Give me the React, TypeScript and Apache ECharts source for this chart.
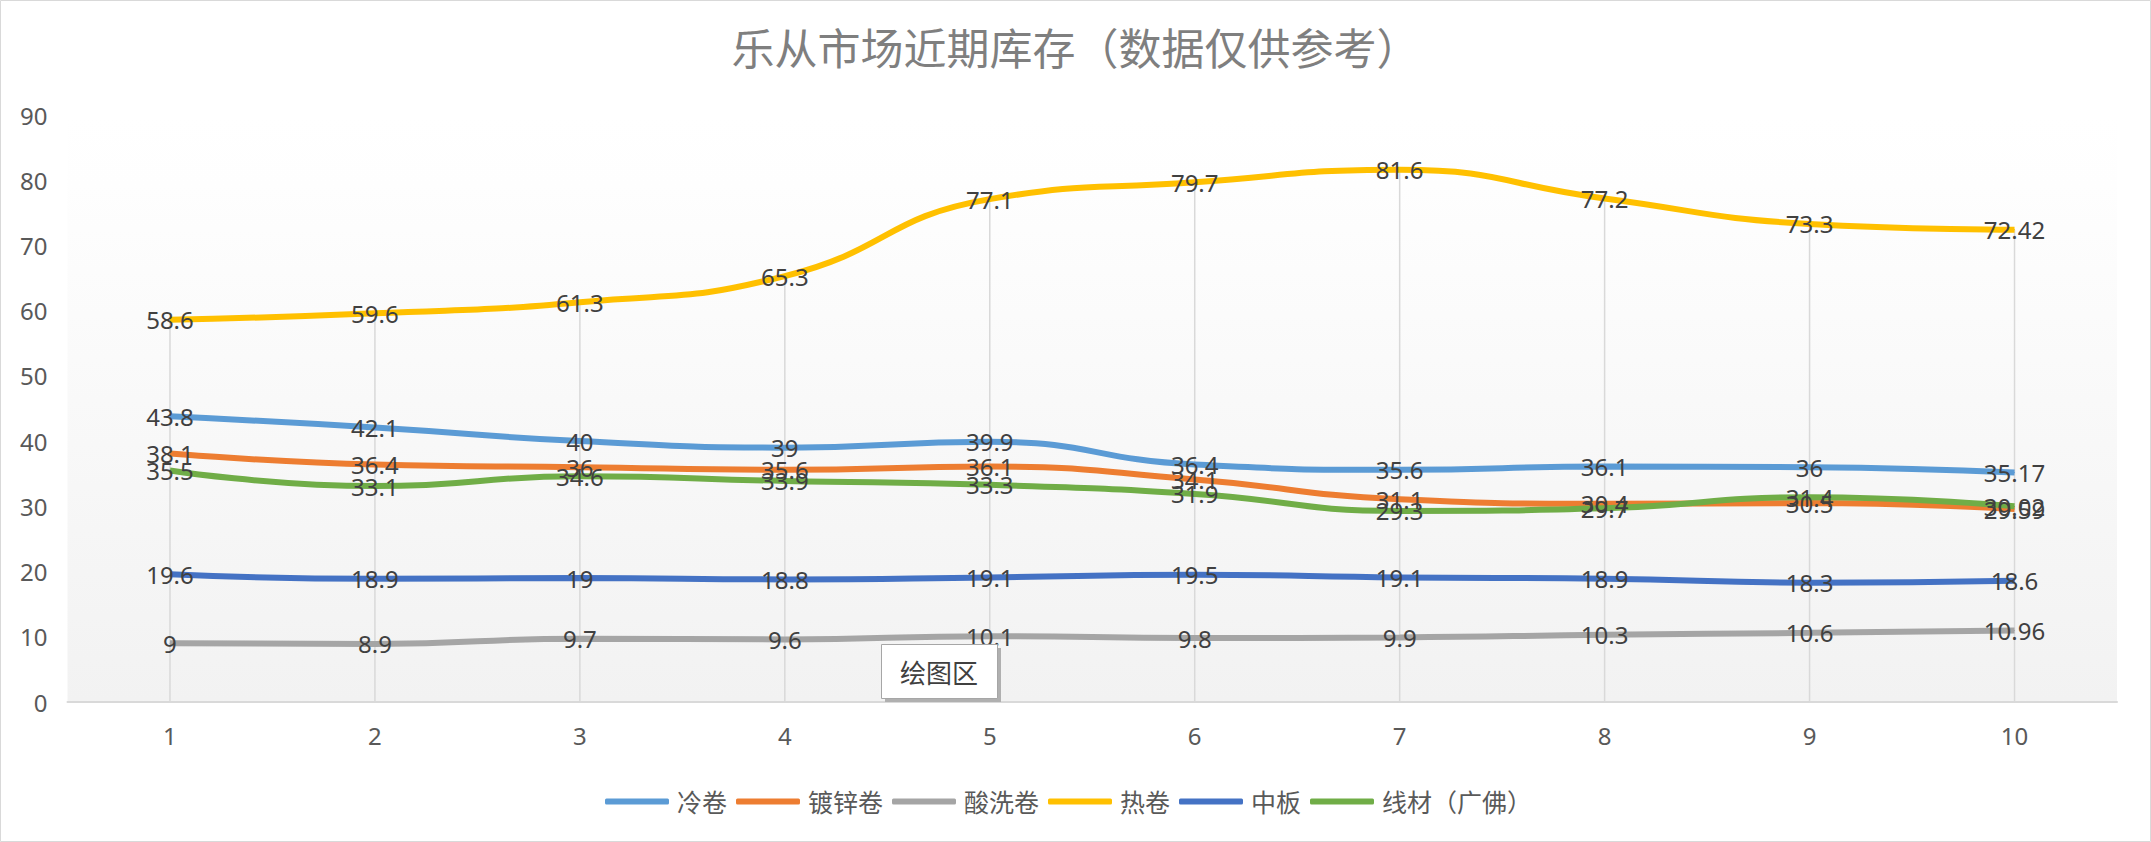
import React, { useEffect, useRef } from "react";
import * as echarts from "echarts";

const categories = ["1", "2", "3", "4", "5", "6", "7", "8", "9", "10"];
const lengJuan = [43.8, 42.1, 40, 39, 39.9, 36.4, 35.6, 36.1, 36, 35.17];
const duXinJuan = [38.1, 36.4, 36, 35.6, 36.1, 34.1, 31.1, 30.4, 30.5, 29.59];
const suanXiJuan = [9, 8.9, 9.7, 9.6, 10.1, 9.8, 9.9, 10.3, 10.6, 10.96];
const reJuan = [58.6, 59.6, 61.3, 65.3, 77.1, 79.7, 81.6, 77.2, 73.3, 72.42];
const zhongBan = [19.6, 18.9, 19, 18.8, 19.1, 19.5, 19.1, 18.9, 18.3, 18.6];
const xianCai = [35.5, 33.1, 34.6, 33.9, 33.3, 31.9, 29.3, 29.7, 31.4, 30.02];

const seriesDefs = [
  { name: "冷卷", data: lengJuan, color: "#5b9bd5" },
  { name: "镀锌卷", data: duXinJuan, color: "#ed7d31" },
  { name: "酸洗卷", data: suanXiJuan, color: "#a5a5a5" },
  { name: "热卷", data: reJuan, color: "#ffc000" },
  { name: "中板", data: zhongBan, color: "#4472c4" },
  { name: "线材（广佛）", data: xianCai, color: "#70ad47" },
];

const yTicks = { min: 0, max: 90, interval: 10 };
const FONT = "'Noto Sans', 'Noto Sans CJK SC', sans-serif";

export default function App() {
  const ref = useRef<HTMLDivElement>(null);
  useEffect(() => {
    if (!ref.current) return;
    const chart = echarts.init(ref.current, null, { renderer: "svg" });
    const dropMax = categories.map((_, i) =>
      Math.max(...seriesDefs.map((s) => s.data[i]))
    );
    const option: any = {
      animation: false,
      backgroundColor: "#ffffff",
      title: {
        text: "乐从市场近期库存（数据仅供参考）",
        left: "center",
        top: 19,
        textStyle: {
          fontFamily: "'Noto Sans CJK SC', sans-serif",
          fontSize: 43,
          fontWeight: "normal",
          color: "#7f7f7f",
        },
      },
      legend: {
        data: seriesDefs.map((s) => s.name),
        left: 600,
        top: 784,
        icon: "roundRect",
        itemWidth: 64,
        itemHeight: 6,
        itemGap: 9,
        textStyle: {
          fontFamily: FONT,
          fontSize: 25,
          color: "#595959",
          padding: [0, 0, 0, 3],
        },
      },
      grid: { left: 67.5, right: 34, top: 115, bottom: 140, containLabel: false },
      xAxis: {
        type: "category",
        data: categories,
        boundaryGap: true,
        axisTick: { show: false },
        axisLine: { lineStyle: { color: "#d9d9d9", width: 2 } },
        axisLabel: { fontFamily: FONT, fontSize: 24, color: "#595959", margin: 21 },
        splitLine: { show: false },
      },
      yAxis: {
        type: "value",
        min: yTicks.min,
        max: yTicks.max,
        interval: yTicks.interval,
        axisLine: { show: false },
        axisTick: { show: false },
        splitLine: { show: false },
        axisLabel: { fontFamily: FONT, fontSize: 24, color: "#595959", margin: 20 },
      },
      graphic: [
        {
          type: "rect",
          z: -10,
          silent: true,
          shape: { x: 67.5, y: 115, width: 2049.5, height: 587 },
          style: {
            fill: new echarts.graphic.LinearGradient(0, 0, 0, 1, [
              { offset: 0, color: "#ffffff" },
              { offset: 0.12, color: "#fefefe" },
              { offset: 1, color: "#f2f2f2" },
            ]),
          },
        },
        {
          type: "rect",
          z: -11,
          silent: true,
          shape: { x: 0.5, y: 0.5, width: 2150, height: 841 },
          style: { fill: "#ffffff", stroke: "#d9d9d9", lineWidth: 1 },
        },
        {
          type: "group",
          z: 100,
          children: [
            {
              type: "rect",
              z: 100,
              shape: { x: 885, y: 648, width: 116, height: 54 },
              style: { fill: "#b0b0b0" },
            },
            {
              type: "rect",
              z: 101,
              shape: { x: 881.5, y: 644.5, width: 116, height: 54 },
              style: { fill: "#ffffff", stroke: "#a6a6a6", lineWidth: 1 },
            },
            {
              type: "text",
              z: 102,
              x: 939,
              y: 671,
              style: {
                text: "绘图区",
                fontFamily: "'Noto Sans CJK SC', sans-serif",
                fontSize: 26,
                fill: "#404040",
                align: "center",
                verticalAlign: "middle",
              },
            },
          ],
        },
      ],
      series: [
        {
          name: "dropLines",
          type: "bar",
          data: dropMax,
          barWidth: 1.5,
          silent: true,
          z: 1,
          itemStyle: { color: "#d9d9d9" },
          label: { show: false },
        },
        ...seriesDefs.map((s) => ({
          name: s.name,
          type: "line",
          data: s.data,
          smooth: 0.5,
          symbol: "circle",
          symbolSize: 1,
          z: 3,
          lineStyle: { color: s.color, width: 6 },
          itemStyle: { color: s.color },
          label: {
            show: true,
            position: "inside",
            fontFamily: FONT,
            fontSize: 24,
            color: "#404040",
          },
          labelLayout: { hideOverlap: false },
        })),
      ],
    };
    chart.setOption(option);
    return () => chart.dispose();
  }, []);
  return (
    <div
      ref={ref}
      style={{ position: "fixed", left: 0, top: 0, width: 2151, height: 842 }}
    />
  );
}
